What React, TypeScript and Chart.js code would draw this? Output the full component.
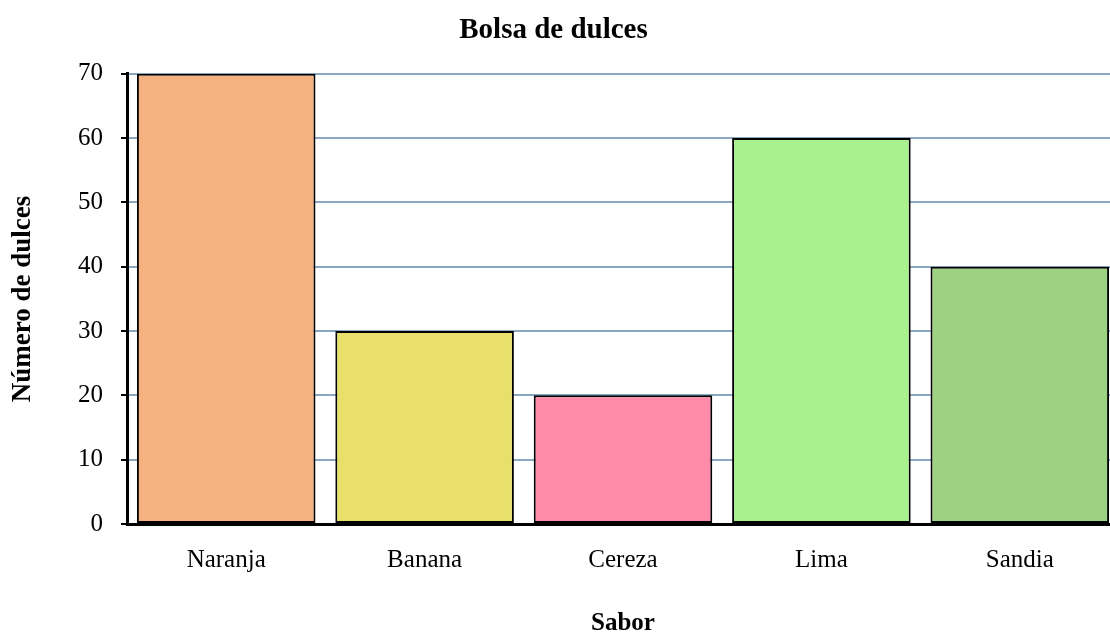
import React, { useEffect, useRef } from "react";
import { Chart, registerables } from "chart.js";

Chart.register(...registerables);

const categories = ["Naranja", "Banana", "Cereza", "Lima", "Sandia"];
const candyCounts = [70, 30, 20, 60, 40];
const yTicks = [0, 10, 20, 30, 40, 50, 60, 70];
const barColors = ["#F5B17F", "#E8E06A", "#FF8BA9", "#AAF08E", "#9DD283"];

const chartTitle = "Bolsa de dulces";
const xTitle = "Sabor";
const yTitle = "Número de dulces";

const SERIF = "'Times New Roman', 'Liberation Serif', serif";

export default function App() {
  const canvasRef = useRef<HTMLCanvasElement | null>(null);

  useEffect(() => {
    if (!canvasRef.current) return;
    const chart = new Chart(canvasRef.current, {
      type: "bar",
      data: {
        labels: categories,
        datasets: [
          {
            data: candyCounts,
            backgroundColor: barColors,
            borderColor: "#000000",
            borderWidth: 2,
            borderSkipped: false,
            barPercentage: 0.9,
            categoryPercentage: 1,
          },
        ],
      },
      options: {
        responsive: false,
        animation: false,
        devicePixelRatio: 1,
        layout: { padding: { left: 0, right: 1, top: 0, bottom: 0 } },
        plugins: {
          legend: { display: false },
          tooltip: { enabled: false },
          title: {
            display: true,
            text: chartTitle,
            color: "#000",
            font: { family: SERIF, size: 29, weight: "bold", lineHeight: 1.2 },
            padding: { top: 13, bottom: 26 },
          },
        },
        scales: {
          x: {
            grid: { display: false, drawTicks: false },
            border: { display: true, color: "#000", width: 3 },
            ticks: {
              color: "#000",
              font: { family: SERIF, size: 25, lineHeight: 1.2 },
              padding: 21,
              maxRotation: 0,
            },
            title: {
              display: true,
              text: xTitle,
              color: "#000",
              font: { family: SERIF, size: 25, weight: "bold", lineHeight: 1 },
              padding: { top: 0, bottom: -1 },
            },
            afterFit: (scale: any) => {
              scale.height = 111;
            },
          },
          y: {
            min: 0,
            max: 70,
            afterBuildTicks: (scale: any) => {
              scale.ticks = yTicks.map((v) => ({ value: v }));
            },
            grid: {
              color: "#8aa7c2",
              lineWidth: 2,
              drawTicks: true,
              tickLength: 6,
              tickColor: "#000",
              tickWidth: 2,
            },
            border: { display: true, color: "#000", width: 3 },
            ticks: {
              color: "#000",
              font: { family: SERIF, size: 25, lineHeight: 1.2 },
              padding: 18,
            },
            title: {
              display: true,
              text: yTitle,
              color: "#000",
              font: { family: SERIF, size: 27, weight: "bold", lineHeight: 1 },
              padding: { top: 22, bottom: 0 },
            },
            afterFit: (scale: any) => {
              scale.width = 139;
            },
          },
        },
      },
    });
    return () => chart.destroy();
  }, []);

  return (
    <div
      style={{
        position: "fixed",
        left: 0,
        top: 0,
        width: 1110,
        height: 635,
        overflow: "hidden",
        background: "#fff",
      }}
    >
      <canvas
        ref={canvasRef}
        width={1132}
        height={635}
        style={{ position: "absolute", left: -12, top: 0, width: 1132, height: 635 }}
      />
    </div>
  );
}
